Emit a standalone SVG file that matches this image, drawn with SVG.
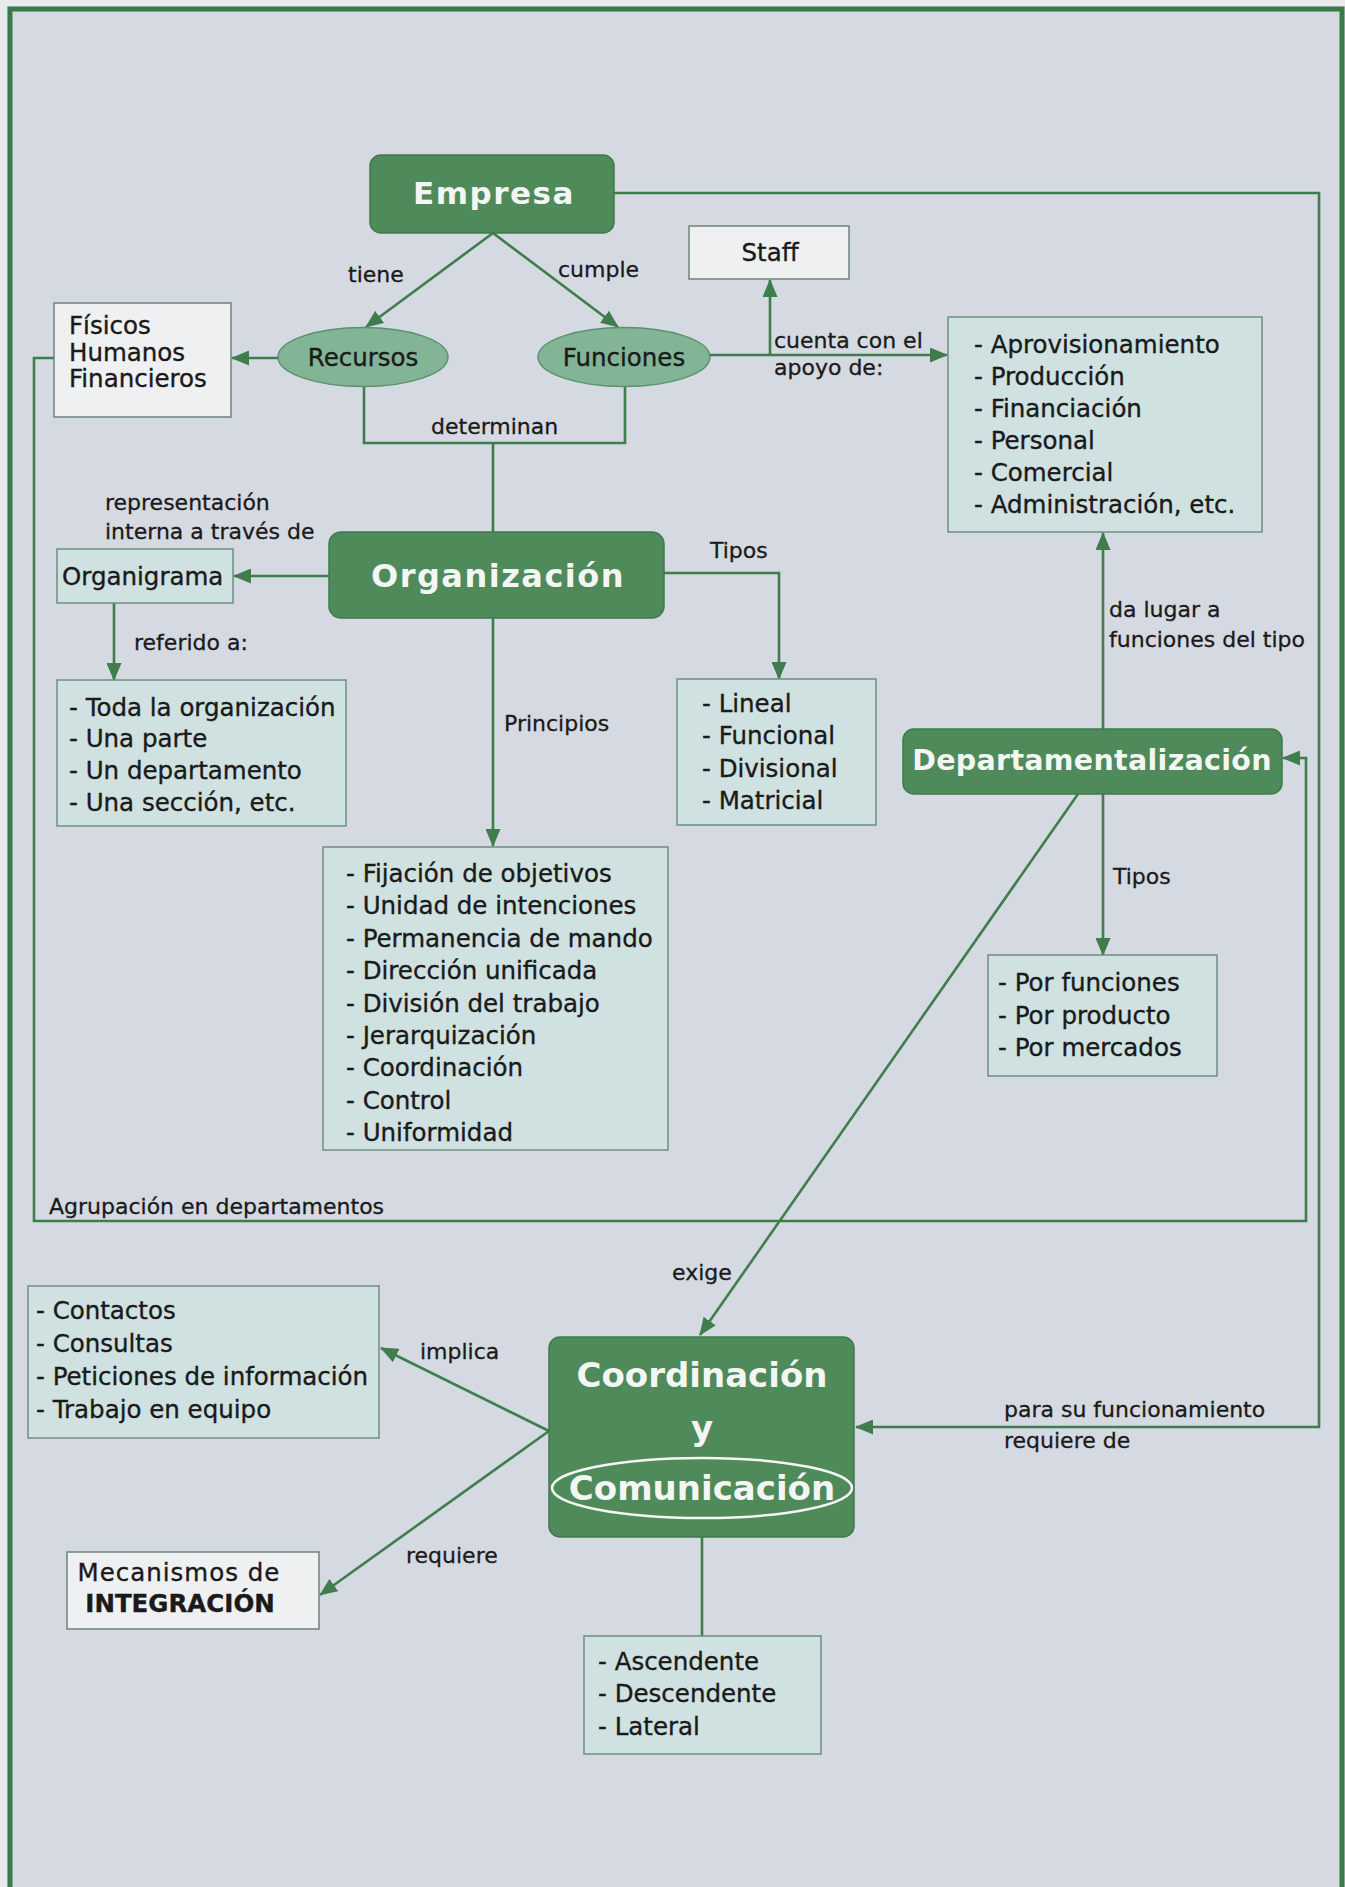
<svg xmlns="http://www.w3.org/2000/svg" width="1345" height="1887" viewBox="0 0 1345 1887">
<defs>
<marker id="ah" markerUnits="userSpaceOnUse" markerWidth="18" markerHeight="15" viewBox="0 0 18 15" refX="17" refY="7.5" orient="auto">
<path d="M0,0 L18,7.5 L0,15 z" fill="#3f7e4c"/>
</marker>
<style>
.gbox{fill:#4e8a5a;stroke:#3f7a4b;stroke-width:1.5}
.tbox{fill:#cfe1e0;stroke:#6f8f80;stroke-width:1.5}
.wbox{fill:#eef0f2;stroke:#6f8479;stroke-width:1.5}
.ell{fill:#82b496;stroke:#5a9270;stroke-width:1.5}
.t{font-family:"DejaVu Sans","Liberation Sans",sans-serif;font-size:24.5px;fill:#1a1a1a;stroke:#1a1a1a;stroke-width:0.35}
.lb{font-family:"DejaVu Sans","Liberation Sans",sans-serif;font-size:22px;fill:#1a1a1a;stroke:#1a1a1a;stroke-width:0.3}
.w{font-family:"DejaVu Sans","Liberation Sans",sans-serif;font-weight:bold;fill:#f4f6f4;text-anchor:middle}
.c{fill:none;stroke:#3f7e4c;stroke-width:2.6}
.a{marker-end:url(#ah)}
</style>
</defs>
<rect x="0" y="0" width="1345" height="1887" fill="#d5d9e1"/>
<rect x="0" y="0" width="7" height="1887" fill="#e8eaed"/>
<rect x="0" y="0" width="1345" height="6" fill="#e8eaed"/>
<path d="M10,1887 V9 H1342 V1887" fill="none" stroke="#3a7a48" stroke-width="5"/>

<g id="connectors">
<path class="c a" d="M493,233 L366,327"/>
<path class="c a" d="M493,233 L618,327"/>
<path class="c a" d="M278,358 L232,358"/>
<path class="c a" d="M710,355 L947,355"/>
<path class="c a" d="M770,355 L770,280"/>
<path class="c" d="M364,387 V443 H625 V387"/>
<path class="c" d="M493,443 V532"/>
<path class="c a" d="M329,576 L234,576"/>
<path class="c a" d="M114,603 L114,680"/>
<path class="c a" d="M493,618 L493,846"/>
<path class="c a" d="M664,573 H779 V679"/>
<path class="c a" d="M1103,729 V533"/>
<path class="c a" d="M1103,794 V955"/>
<path class="c a" d="M54,358 H34 V1221 H1306 V758 H1283"/>
<path class="c a" d="M1078,794 L700,1335"/>
<path class="c a" d="M614,193 H1319 V1427 H856"/>
<path class="c a" d="M549,1431 L381,1348"/>
<path class="c a" d="M549,1431 L320,1595"/>
<path class="c" d="M702,1537 V1636"/>
<text class="lb" x="348" y="282">tiene</text>
<text class="lb" x="558" y="277">cumple</text>
<text class="lb" x="431" y="434">determinan</text>
<text class="lb" x="774" y="348">cuenta con el</text>
<text class="lb" x="774" y="375">apoyo de:</text>
<text class="lb" x="105" y="510">representación</text>
<text class="lb" x="105" y="539">interna a través de</text>
<text class="lb" x="134" y="650">referido a:</text>
<text class="lb" x="504" y="731">Principios</text>
<text class="lb" x="710" y="558">Tipos</text>
<text class="lb" x="1109" y="617">da lugar a</text>
<text class="lb" x="1109" y="647">funciones del tipo</text>
<text class="lb" x="1113" y="884">Tipos</text>
<text class="lb" x="49" y="1214">Agrupación en departamentos</text>
<text class="lb" x="672" y="1280">exige</text>
<text class="lb" x="420" y="1359">implica</text>
<text class="lb" x="406" y="1563">requiere</text>
<text class="lb" x="1004" y="1417">para su funcionamiento</text>
<text class="lb" x="1004" y="1448">requiere de</text>
</g>

<g id="empresa">
<rect class="gbox" x="370" y="155" width="244" height="78" rx="11"/>
<text class="w" x="494" y="204" font-size="31" letter-spacing="1.5">Empresa</text>
</g>
<g id="staff">
<rect class="wbox" x="689" y="226" width="160" height="53"/>
<text class="t" x="770" y="261" text-anchor="middle">Staff</text>
</g>
<g id="recursos">
<ellipse class="ell" cx="363" cy="357" rx="85" ry="29.5"/>
<text class="t" x="363" y="366" text-anchor="middle">Recursos</text>
</g>
<g id="funciones">
<ellipse class="ell" cx="624" cy="357" rx="86" ry="29.5"/>
<text class="t" x="624" y="366" text-anchor="middle">Funciones</text>
</g>
<g id="fisicos">
<rect class="wbox" x="54" y="303" width="177" height="114"/>
<text class="t" x="69" y="334">Físicos</text>
<text class="t" x="69" y="361">Humanos</text>
<text class="t" x="69" y="387">Financieros</text>
</g>
<g id="areas">
<rect class="tbox" x="948" y="317" width="314" height="215"/>
<text class="t" x="974" y="353">- Aprovisionamiento</text>
<text class="t" x="974" y="385">- Producción</text>
<text class="t" x="974" y="417">- Financiación</text>
<text class="t" x="974" y="449">- Personal</text>
<text class="t" x="974" y="481">- Comercial</text>
<text class="t" x="974" y="513">- Administración, etc.</text>
</g>
<g id="organizacion">
<rect class="gbox" x="329" y="532" width="335" height="86" rx="12"/>
<text class="w" x="498" y="587" font-size="32" letter-spacing="1.5">Organización</text>
</g>
<g id="organigrama">
<rect class="tbox" x="57" y="549" width="176" height="54"/>
<text class="t" x="62" y="585" font-size="25">Organigrama</text>
</g>
<g id="referido">
<rect class="tbox" x="57" y="680" width="289" height="146"/>
<text class="t" x="69" y="716">- Toda la organización</text>
<text class="t" x="69" y="747">- Una parte</text>
<text class="t" x="69" y="779">- Un departamento</text>
<text class="t" x="69" y="811">- Una sección, etc.</text>
</g>
<g id="tipos-org">
<rect class="tbox" x="677" y="679" width="199" height="146"/>
<text class="t" x="702" y="712">- Lineal</text>
<text class="t" x="702" y="744">- Funcional</text>
<text class="t" x="702" y="777">- Divisional</text>
<text class="t" x="702" y="809">- Matricial</text>
</g>
<g id="departamentalizacion">
<rect class="gbox" x="903" y="729" width="379" height="65" rx="11"/>
<text class="w" x="1092" y="770" font-size="28.5" letter-spacing="0.3">Departamentalización</text>
</g>
<g id="principios">
<rect class="tbox" x="323" y="847" width="345" height="303"/>
<text class="t" x="346" y="882">- Fijación de objetivos</text>
<text class="t" x="346" y="914">- Unidad de intenciones</text>
<text class="t" x="346" y="947">- Permanencia de mando</text>
<text class="t" x="346" y="979">- Dirección unificada</text>
<text class="t" x="346" y="1012">- División del trabajo</text>
<text class="t" x="346" y="1044">- Jerarquización</text>
<text class="t" x="346" y="1076">- Coordinación</text>
<text class="t" x="346" y="1109">- Control</text>
<text class="t" x="346" y="1141">- Uniformidad</text>
</g>
<g id="tipos-dep">
<rect class="tbox" x="988" y="955" width="229" height="121"/>
<text class="t" x="998" y="991">- Por funciones</text>
<text class="t" x="998" y="1024">- Por producto</text>
<text class="t" x="998" y="1056">- Por mercados</text>
</g>
<g id="contactos">
<rect class="tbox" x="28" y="1286" width="351" height="152"/>
<text class="t" x="36" y="1319">- Contactos</text>
<text class="t" x="36" y="1352">- Consultas</text>
<text class="t" x="36" y="1385">- Peticiones de información</text>
<text class="t" x="36" y="1418">- Trabajo en equipo</text>
</g>
<g id="coordinacion">
<rect class="gbox" x="549" y="1337" width="305" height="200" rx="11"/>
<text class="w" x="702" y="1387" font-size="34">Coordinación</text>
<text class="w" x="702" y="1440" font-size="34">y</text>
<ellipse cx="702" cy="1488" rx="150" ry="30" fill="none" stroke="#f4f6f4" stroke-width="2.5"/>
<text class="w" x="702" y="1500" font-size="34">Comunicación</text>
</g>
<g id="mecanismos">
<rect class="wbox" x="67" y="1552" width="252" height="77"/>
<text class="t" x="179" y="1581" text-anchor="middle" letter-spacing="1">Mecanismos de</text>
<text class="t" x="180" y="1612" text-anchor="middle" font-weight="bold" font-size="27">INTEGRACIÓN</text>
</g>
<g id="direcciones">
<rect class="tbox" x="584" y="1636" width="237" height="118"/>
<text class="t" x="598" y="1670">- Ascendente</text>
<text class="t" x="598" y="1702">- Descendente</text>
<text class="t" x="598" y="1735">- Lateral</text>
</g>
</svg>
